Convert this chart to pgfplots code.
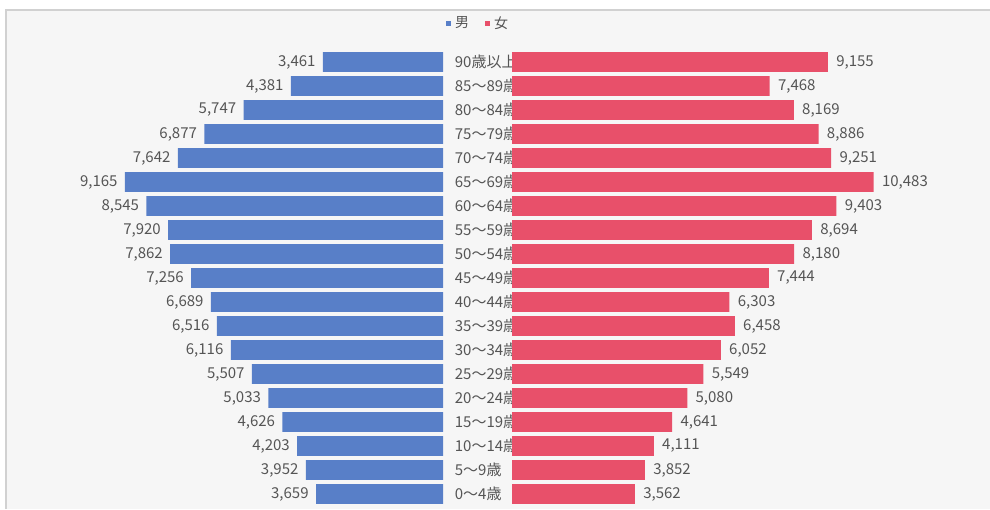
\documentclass[border=0pt]{standalone}
\usepackage{fontspec}
\setmainfont{Noto Sans CJK JP}
\usepackage{pgfplots}
\usepackage{pgfplotstable}
\pgfplotsset{compat=1.18}

\definecolor{male}{RGB}{88,127,200}
\definecolor{female}{RGB}{232,80,106}
\definecolor{bg}{RGB}{246,246,246}
\definecolor{txt}{RGB}{85,85,85}

% 0 = 0~4歳 ... 18 = 90歳以上
\pgfplotstableread{
idx male female
0  3659 3562
1  3952 3852
2  4203 4111
3  4626 4641
4  5033 5080
5  5507 5549
6  6116 6052
7  6516 6458
8  6689 6303
9  7256 7444
10 7862 8180
11 7920 8694
12 8545 9403
13 9165 10483
14 7642 9251
15 6877 8886
16 5747 8169
17 4381 7468
18 3461 9155
}\pop

\pgfplotsset{
  pyr/.style={
    scale only axis, height=228pt, anchor=south west,
    ymin=-0.5, ymax=18.5, xmin=0, clip=false,
    axis line style={draw=none}, tick style={draw=none},
    xtick=\empty,
    xbar, bar width=0.83,
    nodes near coords, point meta=x,
    every node near coord/.append style={font=\fontsize{7.5}{8}\selectfont, text=txt, inner sep=2pt},
    /pgf/number format/fixed, /pgf/number format/precision=0,
    /pgf/number format/1000 sep={,}, /pgf/number format/assume math mode=true,
  }
}

\begin{document}
\begin{tikzpicture}
\fill[white] (0,0) rectangle (495pt,254.5pt);
\fill[bg] (3pt,0) rectangle (495pt,249.5pt);
\draw[black!18, line width=0.8pt] (3pt,0) -- (3pt,249.5pt) -- (495pt,249.5pt);

% 男
\begin{axis}[pyr, at={(30pt,1.5pt)}, width=191.5pt, x dir=reverse, xmax=11037,
  ytick=\empty,
  every node near coord/.append style={anchor=east, xshift=-1.5pt}]
  \addplot[fill=male, draw=none] table[x=male, y=idx] {\pop};
\end{axis}

% 女
\begin{axis}[pyr, at={(256pt,1.5pt)}, width=194pt, xmax=11246,
  ytick={0,...,18},
  yticklabels={0～4歳,5～9歳,10～14歳,15～19歳,20～24歳,25～29歳,30～34歳,35～39歳,40～44歳,45～49歳,50～54歳,55～59歳,60～64歳,65～69歳,70～74歳,75～79歳,80～84歳,85～89歳,90歳以上},
  yticklabel style={anchor=west, inner sep=0pt, xshift=-24.5pt, font=\fontsize{7.5}{8}\selectfont, text=txt},
  every node near coord/.append style={anchor=west, xshift=2pt},
  legend columns=2,
  legend style={draw=none, fill=none, at={(-0.085,1.0576)}, anchor=center,
    font=\fontsize{7}{8}\selectfont, text=txt,
    /tikz/every even column/.append style={column sep=6pt}},
  legend image code/.code={\path[#1, draw=none] (0pt,-1.3pt) rectangle (2.6pt,1.3pt);}]
  \addlegendimage{fill=male}
  \addlegendentry{男}
  \addplot[fill=female, draw=none] table[x=female, y=idx] {\pop};
  \addlegendentry{女}
\end{axis}

\pgfresetboundingbox
\useasboundingbox (0,0) rectangle (495pt,254.5pt);
\end{tikzpicture}
\end{document}
